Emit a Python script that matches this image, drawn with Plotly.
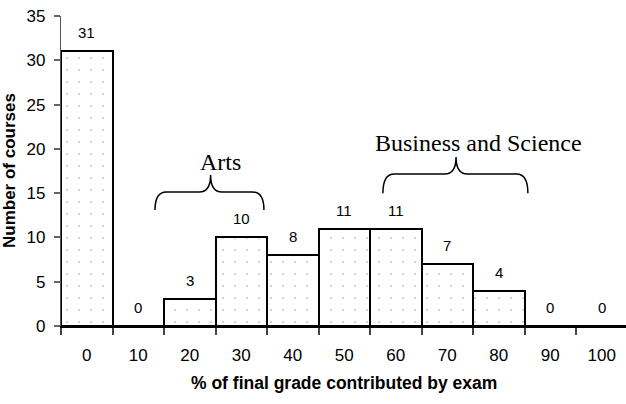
import plotly.graph_objects as go

# ---- data ----
bins = [0, 10, 20, 30, 40, 50, 60, 70, 80, 90, 100]
counts = [31, 0, 3, 10, 8, 11, 11, 7, 4, 0, 0]
x_title = "% of final grade contributed by exam"
y_title = "Number of courses"
y_ticks = [0, 5, 10, 15, 20, 25, 30, 35]

# brace annotations: (label, left, tip, right, label_x) in x units
groups = [
    ("Arts", 13.25, 24.05, 34.4, 26.0),
    ("Business and Science", 57.5, 71.7, 85.65, 76.0),
]
# brace vertical geometry: (end_y, flat_y, tip_y, label_y)
brace_y = [(13.1, 15.13, 17.05, 18.5), (15.0, 17.16, 19.08, 20.66)]

SANS = "Liberation Sans, Arial, sans-serif"
SERIF = "Liberation Serif, Times New Roman, serif"

fig = go.Figure()
fig.add_trace(go.Bar(
    x=bins, y=counts, width=10,
    marker=dict(
        color="white",
        line=dict(color="black", width=2),
        pattern=dict(shape=".", fgcolor="#a8a8a8", bgcolor="white", size=12, solidity=0.03),
    ),
    hoverinfo="skip",
))

annotations = []
for b, c in zip(bins, counts):
    annotations.append(dict(x=b, y=c, xref="x", yref="y", text=str(c), showarrow=False,
                            yshift=18.5, yanchor="middle", font=dict(family=SANS, size=15, color="black")))

shapes = []
for (label, l, t, r, lx), (ye, yf, yt, yl) in zip(groups, brace_y):
    dx = 2.2
    path = (f"M {l},{ye} Q {l},{yf} {l+dx},{yf} L {t-dx},{yf} Q {t},{yf} {t},{yt} "
            f"Q {t},{yf} {t+dx},{yf} L {r-dx},{yf} Q {r},{yf} {r},{ye}")
    shapes.append(dict(type="path", path=path, xref="x", yref="y",
                       line=dict(color="black", width=1.5)))
    annotations.append(dict(x=lx, y=yl, xref="x", yref="y",
                            text=label, showarrow=False, yanchor="middle",
                            font=dict(family=SERIF, size=24, color="black")))

annotations.append(dict(x=-(61 - 9) / 565, y=0.5, xref="paper", yref="paper", text=f"<b>{y_title}</b>",
                        textangle=-90, showarrow=False, xanchor="center", yanchor="middle",
                        font=dict(family=SANS, size=17, color="black")))
annotations.append(dict(x=0.5, y=-(383 - 326) / 310, xref="paper", yref="paper", text=f"<b>{x_title}</b>",
                        showarrow=False, xanchor="center", yanchor="middle",
                        font=dict(family=SANS, size=17.5, color="black")))

fig.update_layout(
    width=626, height=404,
    margin=dict(l=61, r=0, t=16, b=78),
    plot_bgcolor="white", paper_bgcolor="white",
    showlegend=False, bargap=0,
    shapes=shapes, annotations=annotations,
    xaxis=dict(range=[-5, 104.7], tickvals=bins, ticktext=[str(b) for b in bins],
               ticks="", showgrid=False, zeroline=False,
               showline=True, linecolor="black", linewidth=1.5,
               ticklabelstandoff=13,
               tickfont=dict(family=SANS, size=17, color="black"),
               minor=dict(tickvals=[b - 5 for b in bins], ticks="outside", ticklen=7,
                          tickcolor="#444", tickwidth=1.5, showgrid=False)),
    yaxis=dict(range=[0, 35], tickvals=y_ticks, ticks="outside", ticklen=6, tickcolor="#666",
               tickwidth=1.5, showgrid=False, zeroline=False,
               showline=True, linecolor="#555", linewidth=1.2,
               ticklabelstandoff=5,
               tickfont=dict(family=SANS, size=17, color="black")),
)

fig.write_html("out.html")
